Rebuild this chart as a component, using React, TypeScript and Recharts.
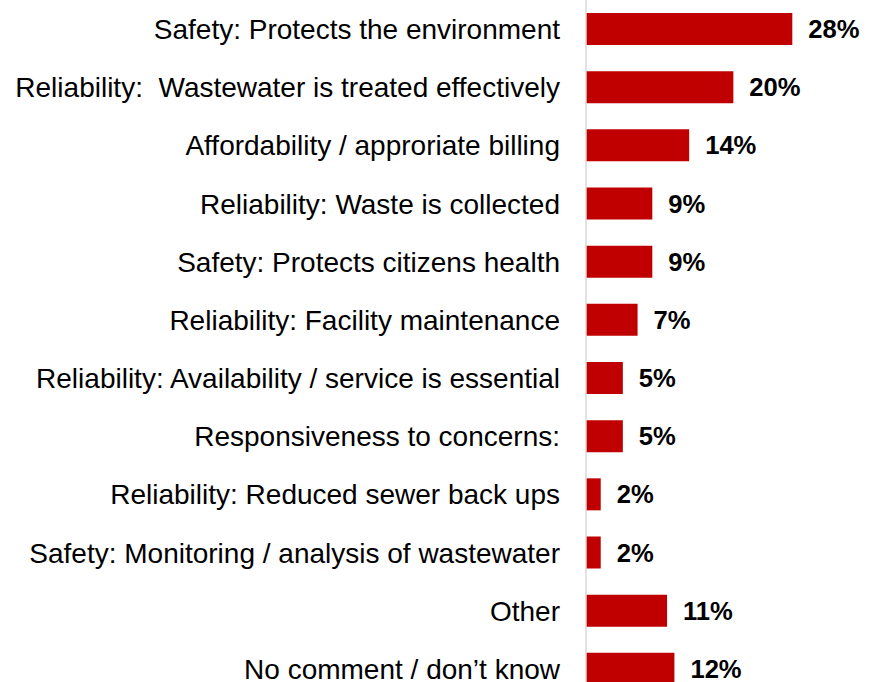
import { BarChart, Bar, XAxis, YAxis, LabelList } from "recharts"

const categories = [
  "Safety: Protects the environment",
  "Reliability:  Wastewater is treated effectively",
  "Affordability / approriate billing",
  "Reliability: Waste is collected",
  "Safety: Protects citizens health",
  "Reliability: Facility maintenance",
  "Reliability: Availability / service is essential",
  "Responsiveness to concerns:",
  "Reliability: Reduced sewer back ups",
  "Safety: Monitoring / analysis of wastewater",
  "Other",
  "No comment / don\u2019t know",
]

const shares = [28, 20, 14, 9, 9, 7, 5, 5, 2, 2, 11, 12]

const data = categories.map((name, i) => ({ name, value: shares[i] }))

const FONT = '"Liberation Sans", Arial, sans-serif'

function CategoryTick(props: any) {
  const { x, y, payload } = props
  return (
    <text
      x={x}
      y={y}
      dy="0.355em"
      textAnchor="end"
      fill="#000"
      fontSize={28}
      fontFamily={FONT}
      style={{ whiteSpace: "pre" }}
    >
      {payload.value}
    </text>
  )
}

export default function App() {
  return (
    <div style={{ position: "absolute", left: 0, top: 0, width: 878, height: 682, overflow: "hidden", background: "#fff" }}>
      <BarChart
        width={878}
        height={700}
        data={data}
        layout="vertical"
        margin={{ top: 0, right: 12, bottom: 2, left: 0 }}
      >
        <XAxis type="number" domain={[0, 38]} hide />
        <YAxis
          type="category"
          dataKey="name"
          width={586}
          tickSize={0}
          tickMargin={26}
          tickLine={false}
          axisLine={{ stroke: "#D9D9D9", strokeWidth: 1.5 }}
          tick={<CategoryTick />}
          interval={0}
        />
        <Bar dataKey="value" fill="#C00000" barSize={32} isAnimationActive={false}>
          <LabelList
            dataKey="value"
            position="right"
            offset={16}
            formatter={(v: any) => `${v}%`}
            style={{ fontFamily: FONT, fontSize: 25.6, fontWeight: 700, fill: "#000" }}
          />
        </Bar>
      </BarChart>
    </div>
  )
}
